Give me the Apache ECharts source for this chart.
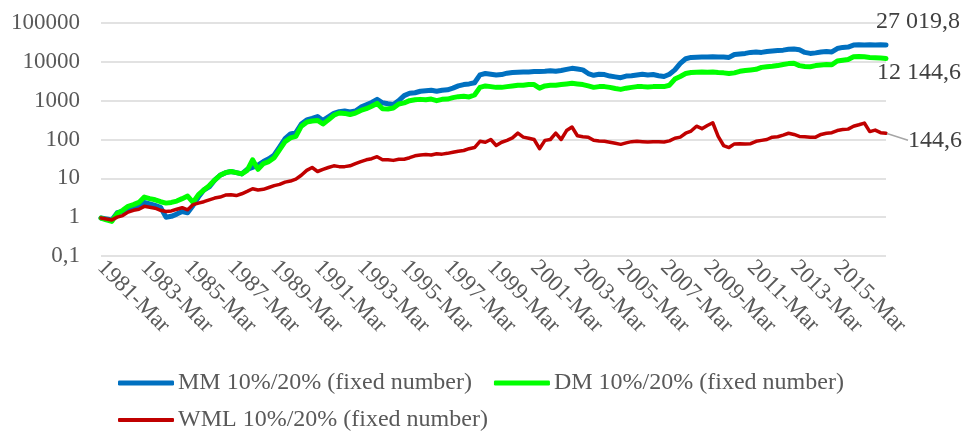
<!DOCTYPE html>
<html>
<head>
<meta charset="utf-8">
<script src="https://cdn.jsdelivr.net/npm/echarts@6/dist/echarts.min.js"></script>
<style>
html,body{margin:0;padding:0;background:#fff;}
#chart{width:963px;height:434px;}
</style>
</head>
<body>
<div id="chart"></div>
<script>
// Quarterly observations starting 1981-Mar
const monthNames = ['Mar', 'Jun', 'Sep', 'Dec'];
const categories = [];
for (let y = 1981; y <= 2017; y++) {
  for (const m of monthNames) {
    if (categories.length < 146) categories.push(y + '-' + m);
  }
}
// x-axis tick labels shown in the reference
const xTickLabels = ['1981-Mar', '1983-Mar', '1985-Mar', '1987-Mar', '1989-Mar', '1991-Mar',
  '1993-Mar', '1995-Mar', '1997-Mar', '1999-Mar', '2001-Mar', '2003-Mar', '2005-Mar',
  '2007-Mar', '2009-Mar', '2011-Mar', '2013-Mar', '2015-Mar'];

const yTickLabels = ['0,1', '1', '10', '100', '1000', '10000', '100000'];

const seriesNames = ['MM 10%/20% (fixed number)', 'DM 10%/20% (fixed number)', 'WML 10%/20% (fixed number)'];

const mmValues = [
  0.95, 0.9, 0.85, 1.3, 1.4, 1.6, 1.8, 2.0, 2.4, 2.2,
  2.0, 1.8, 1.0, 1.05, 1.2, 1.4, 1.3, 2.0, 3.3, 5.0,
  6.0, 9.0, 12, 14, 15, 14, 13, 17, 19, 22,
  27, 32, 40, 65, 105, 140, 150, 250, 320, 350,
  390, 310, 380, 470, 520, 540, 510, 540, 680, 780,
  900, 1080, 880, 830, 800, 1000, 1350, 1550, 1600, 1750,
  1800, 1850, 1750, 1850, 1900, 2100, 2400, 2600, 2700, 2900,
  4600, 5000, 4800, 4600, 4700, 5100, 5300, 5400, 5500, 5500,
  5600, 5600, 5700, 5900, 5700, 6000, 6400, 6800, 6500, 6200,
  5000, 4500, 4800, 4700, 4300, 4100, 3900, 4300, 4400, 4600,
  4800, 4600, 4700, 4400, 4200, 4800, 6200, 9100, 12000, 13000,
  13200, 13300, 13400, 13500, 13400, 13300, 13000, 15500, 16000, 16500,
  17500, 18000, 17500, 18500, 19000, 19500, 20000, 21000, 21500, 20500,
  17500, 16500, 17000, 18000, 18500, 18000, 22000, 23500, 24000, 27000,
  27500, 27000, 27500, 27000, 27500, 27019.8
];

const dmValues = [
  0.95, 0.85, 0.78, 1.25, 1.5, 1.9, 2.1, 2.4, 3.3, 3.0,
  2.8, 2.5, 2.3, 2.4, 2.6, 3.0, 3.5, 2.4, 3.8, 5.0,
  6.5, 9.0, 12, 14, 15, 14, 13, 16, 30, 17,
  24, 27, 34, 55, 88, 110, 120, 220, 280, 300,
  310, 250, 320, 420, 480, 470, 440, 480, 560, 620,
  720, 850, 620, 610, 650, 820, 880, 1000, 1050, 1080,
  1050, 1100, 1000, 1080, 1100, 1200, 1270, 1300, 1250, 1400,
  2200, 2400, 2300, 2200, 2200, 2300, 2400, 2500, 2500, 2600,
  2600, 2100, 2400, 2500, 2500, 2600, 2700, 2800, 2700, 2600,
  2400, 2200, 2300, 2300, 2200, 2050, 1950, 2100, 2200, 2300,
  2300, 2250, 2300, 2300, 2300, 2500, 3600, 4200, 5000, 5300,
  5400, 5500, 5400, 5500, 5300, 5200, 5000, 5200, 5700, 6000,
  6200, 6400, 7200, 7500, 7700, 8000, 8500, 9000, 9200, 8000,
  7600, 7500, 8000, 8300, 8500, 8400, 10500, 11000, 11500, 13500,
  13800, 13500, 13000, 12800, 12500, 12144.6
];

const wmlValues = [
  0.95, 0.9, 0.85, 1.0, 1.1, 1.35, 1.5, 1.6, 1.9, 1.8,
  1.7, 1.5, 1.4, 1.45, 1.6, 1.75, 1.55, 2.1, 2.3, 2.5,
  2.8, 3.1, 3.3, 3.7, 3.8, 3.6, 4.0, 4.6, 5.4, 5.0,
  5.2, 5.8, 6.5, 7.0, 8.0, 8.5, 9.5, 12, 16, 19,
  15, 17, 19, 21, 20, 20, 21, 24, 27, 30,
  32, 36, 30, 30, 29, 31, 31, 34, 38, 40,
  41, 40, 43, 42, 44, 47, 50, 52, 58, 62,
  90, 85, 100, 70, 85, 95, 110, 146, 115, 108,
  100, 58, 95, 100, 146, 100, 170, 210, 125, 118,
  115, 95, 92, 90, 85, 80, 75, 82, 88, 90,
  88, 86, 88, 87, 86, 92, 108, 115, 145, 165,
  220, 190, 230, 270, 120, 70, 62, 77, 78, 77,
  78, 90, 95, 100, 115, 118, 130, 145, 135, 120,
  118, 115, 115, 135, 145, 150, 170, 180, 185, 220,
  240, 265, 160, 175, 150, 144.6
];

const endLabels = ['27 019,8', '12 144,6', '144,6'];
const colors = ['#0070C0', '#00FF00', '#C00000'];

const FONT = "'Liberation Serif', 'Times New Roman', serif";

function withEndPoint(values, color, labelOpt, extra) {
  const data = values.slice(0, -1);
  const last = values[values.length - 1];
  data.push(Object.assign({
    value: last,
    symbol: 'circle',
    symbolSize: 2,
    itemStyle: { color: color },
    label: Object.assign({
      show: true,
      fontFamily: FONT,
      fontSize: 24,
      color: '#404040'
    }, labelOpt)
  }, extra || {}));
  return data;
}

const chart = echarts.init(document.getElementById('chart'), null, { renderer: 'canvas' });

const legendText = { fontFamily: FONT, fontSize: 24, color: '#595959', padding: [0, 0, 0, -1] };

const option = {
  animation: false,
  backgroundColor: '#ffffff',
  grid: { left: 101, right: 77, top: 23, bottom: 178, containLabel: false },
  xAxis: {
    type: 'category',
    data: categories,
    boundaryGap: false,
    axisLine: { show: false },
    axisTick: { show: false },
    splitLine: { show: false },
    axisLabel: {
      interval: function (idx, value) { return xTickLabels.indexOf(value) !== -1; },
      rotate: -45,
      margin: 8,
      fontFamily: FONT,
      fontSize: 23,
      color: '#595959'
    }
  },
  yAxis: {
    type: 'log',
    logBase: 10,
    min: 0.1,
    max: 100000,
    axisLine: { show: false },
    axisTick: { show: false },
    splitLine: { show: true, lineStyle: { color: '#D9D9D9', width: 1.5 } },
    axisLabel: {
      margin: 21,
      fontFamily: FONT,
      fontSize: 23,
      color: '#595959',
      formatter: function (v) {
        const idx = Math.round(Math.log10(v)) + 1;
        return yTickLabels[idx] !== undefined ? yTickLabels[idx] : String(v);
      }
    }
  },
  legend: [
    {
      data: [
        { name: seriesNames[0], icon: 'roundRect' },
        { name: seriesNames[1], icon: 'roundRect' }
      ],
      left: 113,
      top: 366,
      itemWidth: 56,
      itemHeight: 5,
      itemGap: 22,
      textStyle: legendText
    },
    {
      data: [{ name: seriesNames[2], icon: 'roundRect' }],
      left: 113,
      top: 403,
      itemWidth: 56,
      itemHeight: 4,
      textStyle: legendText
    }
  ],
  series: [
    {
      name: seriesNames[0],
      type: 'line',
      symbol: 'none',
      showSymbol: true,
      showAllSymbol: true,
      clip: false,
      color: colors[0],
      lineStyle: { color: colors[0], width: 5, cap: 'round', join: 'round' },
      data: withEndPoint(mmValues, colors[0], {
        formatter: endLabels[0], position: 'right', distance: 0, offset: [-11, -23]
      }),
      z: 2
    },
    {
      name: seriesNames[1],
      type: 'line',
      symbol: 'none',
      showSymbol: true,
      showAllSymbol: true,
      clip: false,
      color: colors[1],
      lineStyle: { color: colors[1], width: 5, cap: 'round', join: 'round' },
      data: withEndPoint(dmValues, colors[1], {
        formatter: endLabels[1], position: 'right', distance: 0, offset: [-10, 14]
      }),
      z: 3
    },
    {
      name: seriesNames[2],
      type: 'line',
      symbol: 'none',
      showSymbol: true,
      showAllSymbol: true,
      clip: false,
      color: colors[2],
      lineStyle: { color: colors[2], width: 3.5, cap: 'round', join: 'round' },
      data: withEndPoint(wmlValues, colors[2], {
        formatter: endLabels[2], position: 'right', distance: 0
      }, {
        labelLine: { show: true, length2: 0, lineStyle: { color: '#A6A6A6', width: 1.5 } }
      }),
      labelLayout: { dx: 21, dy: 7 },
      labelLine: { show: true, lineStyle: { color: '#A6A6A6', width: 1.5 } },
      z: 4
    }
  ]
};

chart.setOption(option);
</script>
</body>
</html>
